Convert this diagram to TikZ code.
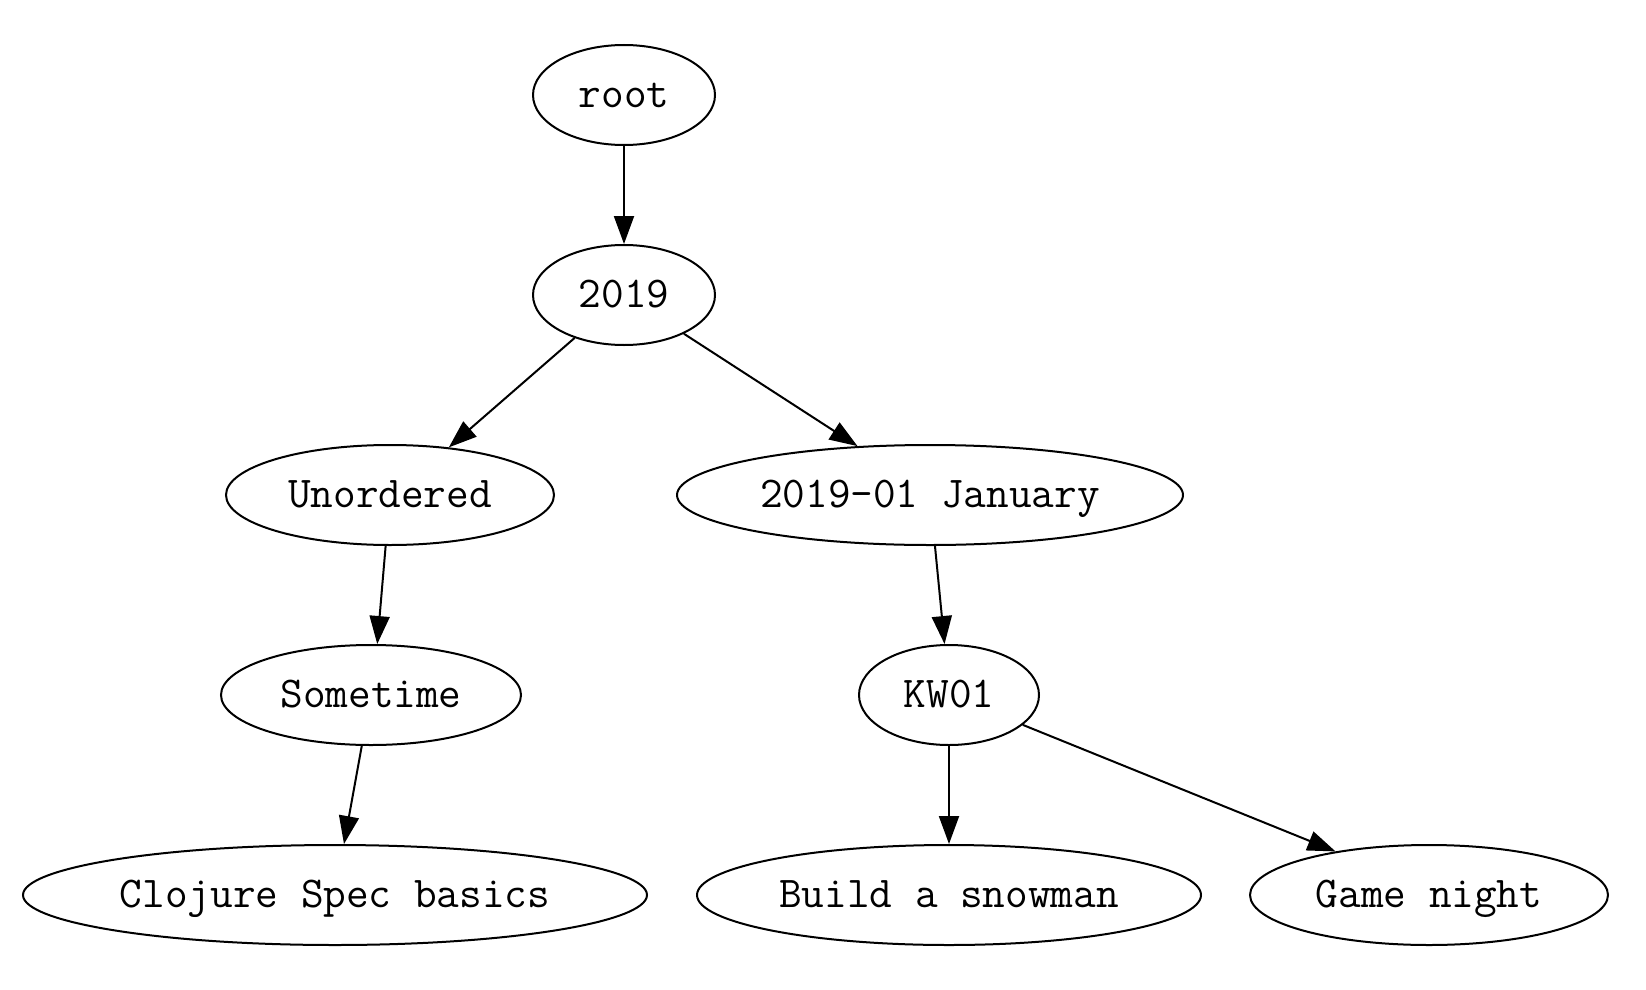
\documentclass[tikz,border=0pt]{standalone}
\usepackage{fontspec}
\usetikzlibrary{shapes.geometric,arrows.meta}
\tikzset{
  gvnode/.style={ellipse, draw=black, line width=2pt, inner sep=0pt,
    minimum height=100pt, text height=32pt, text depth=8pt,
    font=\ttfamily\fontsize{44}{49}\selectfont},
  edge/.style={draw=black, line width=2pt, -{Triangle[length=28pt,width=20pt]}}
}
\begin{document}
\begin{tikzpicture}[x=1pt,y=-1pt]
\useasboundingbox (0,0) rectangle (1646,990);
\node[gvnode, minimum width=182pt] (root) at (624,95) {root};
\node[gvnode, minimum width=182pt] (n2019) at (624,295) {2019};
\node[gvnode, minimum width=328pt] (unordered) at (390,495) {Unordered};
\node[gvnode, minimum width=506pt] (january) at (930,495) {2019-01 January};
\node[gvnode, minimum width=300pt] (sometime) at (371,695) {Sometime};
\node[gvnode, minimum width=180pt] (kw) at (949,695) {KW01};
\node[gvnode, minimum width=624pt] (clojure) at (335,895) {Clojure Spec basics};
\node[gvnode, minimum width=504pt] (build) at (949,895) {Build a snowman};
\node[gvnode, minimum width=358pt] (game) at (1429,895) {Game night};
\draw[edge] (root) -- (n2019);
\draw[edge] (n2019) -- (unordered.39);
\draw[edge] (n2019) -- (january.146);
\draw[edge] (unordered) -- (sometime.83);
\draw[edge] (january) -- (kw.95);
\draw[edge] (sometime) -- (clojure.80);
\draw[edge] (kw) -- (build);
\draw[edge] (kw) -- (game.155);
\end{tikzpicture}
\end{document}
